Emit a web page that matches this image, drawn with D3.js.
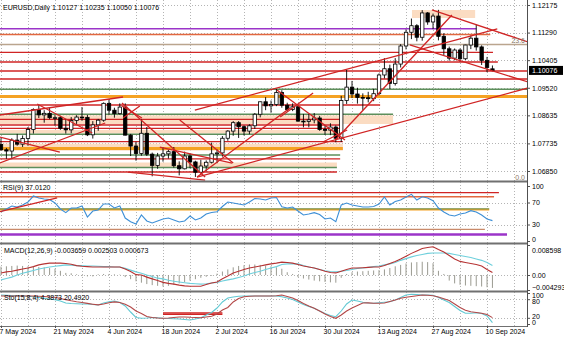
<!DOCTYPE html>
<html>
<head>
<meta charset="utf-8">
<script src="https://cdn.jsdelivr.net/npm/d3@7"></script>
<style>
body { margin: 0; background: #fff; }
text { font-family: "Liberation Sans", Arial, sans-serif; font-size: 7px; fill: #000; }
</style>
</head>
<body>
<div id="chart"></div>
<script>
// ---- data ----
// daily EURUSD candles: date, open, high, low, close
var candles = [
["2024-05-07",1.0770,1.0790,1.0750,1.0753],["2024-05-08",1.0753,1.0759,1.0724,1.0749],
["2024-05-09",1.0749,1.0790,1.0723,1.0784],["2024-05-10",1.0784,1.0804,1.0766,1.0771],
["2024-05-13",1.0771,1.0799,1.0762,1.0789],["2024-05-14",1.0789,1.0826,1.0766,1.0818],
["2024-05-15",1.0818,1.0886,1.0805,1.0882],["2024-05-16",1.0882,1.0895,1.0855,1.0865],
["2024-05-17",1.0865,1.0880,1.0840,1.0870],["2024-05-20",1.0870,1.0887,1.0851,1.0856],
["2024-05-21",1.0856,1.0864,1.0831,1.0856],["2024-05-22",1.0856,1.0862,1.0817,1.0822],
["2024-05-23",1.0822,1.0852,1.0805,1.0817],["2024-05-24",1.0817,1.0858,1.0806,1.0847],
["2024-05-27",1.0847,1.0864,1.0836,1.0858],["2024-05-28",1.0858,1.0890,1.0846,1.0857],
["2024-05-29",1.0857,1.0865,1.0797,1.0801],["2024-05-30",1.0801,1.0845,1.0789,1.0833],
["2024-05-31",1.0833,1.0852,1.0814,1.0848],["2024-06-03",1.0848,1.0905,1.0843,1.0902],
["2024-06-04",1.0902,1.0916,1.0866,1.0880],["2024-06-05",1.0880,1.0888,1.0856,1.0869],
["2024-06-06",1.0869,1.0902,1.0866,1.0890],["2024-06-07",1.0890,1.0902,1.0799,1.0800],
["2024-06-10",1.0800,1.0804,1.0733,1.0765],["2024-06-11",1.0765,1.0779,1.0718,1.0741],
["2024-06-12",1.0741,1.0852,1.0734,1.0806],["2024-06-13",1.0806,1.0826,1.0733,1.0739],
["2024-06-14",1.0739,1.0744,1.0668,1.0703],["2024-06-17",1.0703,1.0743,1.0692,1.0733],
["2024-06-18",1.0733,1.0761,1.0715,1.0740],["2024-06-19",1.0740,1.0753,1.0725,1.0747],
["2024-06-20",1.0747,1.0762,1.0696,1.0702],["2024-06-21",1.0702,1.0716,1.0671,1.0692],
["2024-06-24",1.0692,1.0747,1.0690,1.0733],["2024-06-25",1.0733,1.0739,1.0694,1.0714],
["2024-06-26",1.0714,1.0718,1.0666,1.0681],["2024-06-27",1.0681,1.0721,1.0677,1.0701],
["2024-06-28",1.0701,1.0719,1.0684,1.0713],["2024-07-01",1.0713,1.0776,1.0709,1.0740],
["2024-07-02",1.0740,1.0754,1.0710,1.0743],["2024-07-03",1.0743,1.0797,1.0731,1.0790],
["2024-07-04",1.0790,1.0816,1.0782,1.0813],["2024-07-05",1.0813,1.0845,1.0798,1.0840],
["2024-07-08",1.0840,1.0845,1.0791,1.0827],["2024-07-09",1.0827,1.0831,1.0799,1.0813],
["2024-07-10",1.0813,1.0835,1.0803,1.0830],["2024-07-11",1.0830,1.0871,1.0820,1.0867],
["2024-07-12",1.0867,1.0908,1.0857,1.0907],["2024-07-15",1.0907,1.0922,1.0880,1.0894],
["2024-07-16",1.0894,1.0911,1.0872,1.0898],["2024-07-17",1.0898,1.0948,1.0893,1.0937],
["2024-07-18",1.0937,1.0944,1.0888,1.0896],["2024-07-19",1.0896,1.0904,1.0876,1.0882],
["2024-07-22",1.0882,1.0902,1.0877,1.0891],["2024-07-23",1.0891,1.0895,1.0843,1.0845],
["2024-07-24",1.0845,1.0868,1.0825,1.0844],["2024-07-25",1.0844,1.0868,1.0825,1.0849],
["2024-07-26",1.0849,1.0871,1.0838,1.0855],["2024-07-29",1.0855,1.0862,1.0814,1.0818],
["2024-07-30",1.0818,1.0832,1.0801,1.0816],["2024-07-31",1.0816,1.0838,1.0800,1.0826],
["2024-08-01",1.0826,1.0831,1.0777,1.0790],["2024-08-02",1.0790,1.0926,1.0778,1.0911],
["2024-08-05",1.0911,1.1009,1.0900,1.0954],["2024-08-06",1.0954,1.0974,1.0919,1.0932],
["2024-08-07",1.0932,1.0952,1.0901,1.0921],["2024-08-08",1.0921,1.0934,1.0881,1.0920],
["2024-08-09",1.0920,1.0939,1.0905,1.0917],["2024-08-12",1.0917,1.0949,1.0909,1.0933],
["2024-08-13",1.0933,1.0998,1.0928,1.0993],["2024-08-14",1.0993,1.1047,1.0982,1.1013],
["2024-08-15",1.1013,1.1026,1.0948,1.0966],["2024-08-16",1.0966,1.1047,1.0959,1.1028],
["2024-08-19",1.1028,1.1092,1.1017,1.1086],["2024-08-20",1.1086,1.1139,1.1075,1.1130],
["2024-08-21",1.1130,1.1174,1.1108,1.1151],["2024-08-22",1.1151,1.1156,1.1101,1.1114],
["2024-08-23",1.1114,1.1201,1.1103,1.1192],["2024-08-26",1.1192,1.1195,1.1154,1.1163],
["2024-08-27",1.1163,1.1190,1.1140,1.1182],["2024-08-28",1.1182,1.1202,1.1104,1.1117],
["2024-08-29",1.1117,1.1127,1.1057,1.1077],["2024-08-30",1.1077,1.1084,1.1039,1.1047],
["2024-09-02",1.1047,1.1078,1.1040,1.1073],["2024-09-03",1.1073,1.1078,1.1036,1.1045],
["2024-09-04",1.1045,1.1090,1.1041,1.1089],["2024-09-05",1.1089,1.1120,1.1076,1.1111],
["2024-09-06",1.1111,1.1155,1.1071,1.1083],["2024-09-09",1.1083,1.1088,1.1025,1.1040],
["2024-09-10",1.1040,1.1051,1.1002,1.1017],["2024-09-11",1.10127,1.10235,1.10050,1.10076]
];

var rsi = [53.3,58.2,63.6,61.8,65.5,70.9,81.8,78.2,76.4,75.5,
69.1,58.2,51.5,60,60,63.6,43.6,54.5,56.4,67.3,
67.3,60,63.6,41.8,35.1,30.9,47.3,36.4,32.7,36.4,
40,41.8,38.2,34.5,36.4,45.5,38.2,41.8,49.1,51.8,
53.3,62.7,70.9,69.1,67.3,65.5,70.9,77.3,76.4,74.5,
78.2,79.1,62.4,60,61.8,54.5,47.3,49.1,51.5,48.2,
40,41.8,35.1,65.5,69.1,65.5,63.6,61.8,61.8,62.7,
67.3,80,65.5,71.8,74.5,80,84.9,74.5,80.5,78.2,
73.3,60,52.7,47.3,45.5,49.1,50.9,55.1,52.7,47.3,
40,37.0];

var macdMain = [0.0006,0.0009,0.0011,0.0014,0.0017,0.0020,0.0024,0.0029,0.0032,0.0034,
0.0034,0.0034,0.0033,0.0031,0.0027,0.0025,0.0024,0.0023,0.0023,0.0023,
0.0023,0.0023,0.0023,0.0017,0.0010,0.0001,0.0000,-0.0006,-0.0011,-0.0016,
-0.0021,-0.0024,-0.0026,-0.0029,-0.0031,-0.0032,-0.0032,-0.0032,-0.0027,-0.0023,
-0.0020,-0.0011,-0.0003,0.0006,0.0011,0.0016,0.0020,0.0023,0.0026,0.0029,
0.0032,0.0034,0.0037,0.0036,0.0034,0.0030,0.0026,0.0023,0.0020,0.0016,
0.0011,0.0007,0.0006,0.0011,0.0016,0.0020,0.0020,0.0021,0.0022,0.0023,
0.0023,0.0027,0.0033,0.0039,0.0046,0.0054,0.0062,0.0069,0.0076,0.0079,
0.0081,0.0073,0.0066,0.0056,0.0046,0.0039,0.0036,0.0033,0.0030,0.0026,
0.0016,0.0007];

var macdSignal = [-0.0014,-0.0010,-0.0006,0.0000,0.0005,0.0009,0.0013,0.0017,0.0020,0.0023,
0.0025,0.0027,0.0029,0.0028,0.0027,0.0027,0.0026,0.0026,0.0025,0.0024,
0.0024,0.0023,0.0023,0.0019,0.0014,0.0009,0.0005,0.0000,-0.0004,-0.0009,
-0.0011,-0.0015,-0.0018,-0.0020,-0.0022,-0.0024,-0.0025,-0.0026,-0.0025,-0.0023,
-0.0021,-0.0017,-0.0014,-0.0011,-0.0007,-0.0003,0.0003,0.0007,0.0011,0.0016,
0.0020,0.0024,0.0030,0.0032,0.0032,0.0032,0.0027,0.0023,0.0020,0.0016,
0.0012,0.0010,0.0009,0.0011,0.0013,0.0016,0.0019,0.0020,0.0022,0.0024,
0.0026,0.0029,0.0032,0.0036,0.0042,0.0047,0.0052,0.0056,0.0059,0.0062,
0.0063,0.0063,0.0063,0.0062,0.0059,0.0056,0.0053,0.0050,0.0046,0.0042,
0.0036,0.0027];

var macdHist = [0.0024,0.0025,0.0026,0.0027,0.0026,0.0025,0.0024,0.0023,0.0022,0.0020,
0.0018,0.0012,0.0006,0.0005,0.0002,-0.0003,-0.0004,-0.0004,0.0002,0.0003,
0.0003,0.0002,0.0001,-0.0006,-0.0012,-0.0018,-0.0022,-0.0026,-0.0029,-0.0031,
-0.0033,-0.0031,-0.0028,-0.0024,-0.0020,-0.0016,-0.0012,-0.0008,-0.0005,-0.0002,
0.0004,0.0010,0.0016,0.0022,0.0026,0.0028,0.0030,0.0030,0.0029,0.0027,
0.0025,0.0022,0.0018,0.0008,0.0003,-0.0006,-0.0010,-0.0013,-0.0016,-0.0018,
-0.0020,-0.0021,-0.0022,-0.0008,0.0003,0.0008,0.0010,0.0011,0.0012,0.0013,
0.0014,0.0016,0.0020,0.0025,0.0029,0.0033,0.0036,0.0037,0.0038,0.0037,
0.0034,0.0012,0.0003,-0.0016,-0.0024,-0.0028,-0.0030,-0.0031,-0.0032,-0.0033,
-0.0035,-0.0037];

var stoMain = [93.5,92.6,91.9,91.3,90.3,89.4,88.1,85.5,82.9,80.6,
78.4,74.2,67.7,66.1,65.2,64.5,64.5,62.9,61.3,67.7,
71.9,74.2,69.4,58.1,38.7,21,18.4,19.4,21,20,
18.4,17.7,16.8,16.1,14.5,12.9,16.1,20.3,29,37.1,
51.6,71,83.9,87.1,89.4,90.3,90.3,90.3,90.3,90.3,
90.3,90.3,88.1,83.9,79,71,62.9,56.5,50.6,41.9,
33.9,27.4,23.5,41.9,64.5,77.4,74.2,70.3,67.7,66.8,
68.4,70,71.6,77.4,85.5,93.5,95.8,95.2,93.5,93.5,
92.6,85.5,77.4,69.4,56.5,43.5,34.5,34.5,36.1,33.9,
25.8,4.39];

var stoSignal = [90.3,90.3,90.3,90.3,90.3,90.3,90.3,89.7,88.7,87.1,
86.1,82.3,78.4,74.8,71.9,69.4,66.5,63.9,61.6,64.5,
68.4,71.3,69.4,63.5,54.8,41.9,33.9,24.2,21,19.4,
18.4,19.4,21,22.6,22.6,21.6,21,20.3,22.6,24.8,
32.3,45.2,53.2,71,82.3,88.1,89.4,90.3,90.3,90.3,
90.3,91,93.5,88.7,83.9,75.8,66.1,58.1,50.6,41.9,
32.3,24.2,18.4,29,41.9,51.6,59.7,67.7,68.1,67.1,
66.8,67.7,72.6,77.4,82.9,86.1,88.7,91.3,93.5,92.6,
91,87.1,81.3,75.8,64.5,53.2,44.2,39.4,37.1,34.5,
30.6,20.49];

// tick labels
var priceTicks = [1.12175, 1.11290, 1.10405, 1.09520, 1.08635, 1.07735, 1.06850];
var rsiTicks = [0, 30, 70, 100];
var macdTicks = [-0.004293, 0, 0.008598];
var stoTicks = [0, 20, 80, 100];
var dateTickIdx = [0, 10, 20, 30, 40, 50, 60, 70, 80, 90];
var dateTickLabels = ["7 May 2024","21 May 2024","4 Jun 2024","18 Jun 2024","2 Jul 2024",
  "16 Jul 2024","30 Jul 2024","13 Aug 2024","27 Aug 2024","10 Sep 2024"];

// drawn objects on the price window: [price, first bar, last bar]
var purpleLevels = [[1.11415, -1, 88]];
var salmonLevels = [[1.11229, -1, 90.6]];
var tanLevels = [[1.10908, -1, 98]];
var redLevels = [[1.10658,-1,91.1],[1.10346,-1,92],[1.10058,-1,98],[1.09801,-1,98],
  [1.08967,-1,70.2],[1.08508,-1,63.3],[1.08325,-1,63.3],[1.08219,-1,63.3],
  [1.07795,-1,63.3],[1.07241,-1,62.8],[1.06817,-1,62.2]];
var greenLevels = [[1.09471,-1,98],[1.08668,-1,72.6],[1.08027,-1,63.3],[1.07362,-1,62.8],[1.06962,-1,62.2]];
var orangeLevels = [[1.09240,-1,98],[1.07571,-1,63.3]];
// zones: [price top, price bottom, first bar, last bar]
var peachZones = [[1.08636,1.08357,-1,72.6],[1.08165,1.08053,-1,63.3],[1.07726,1.07503,-1,63.3],
  [1.07122,1.06977,-1,62.2],[1.12015,1.11758,76.1,87.8]];
// trend lines: [bar, price, bar, price]
var trendLines = [
  [-0.2,1.08646,22.6,1.09223],[6.7,1.09000,16.9,1.08068],[-0.2,1.07940,10.9,1.07459],
  [-0.2,1.07106,19.3,1.08389],[22.4,1.09031,37.8,1.06657],[29.4,1.07619,42.8,1.07106],
  [33.1,1.08486,43.0,1.07106],[36.3,1.06657,53.5,1.08871],[36.3,1.06657,97.6,1.09512],
  [35.9,1.08806,91.9,1.11405],[51.1,1.09448,63.7,1.07844],[51.7,1.08582,57.8,1.09352],
  [59.6,1.07780,64.1,1.08165],[61.9,1.07844,83.5,1.11854],[79.8,1.12015,97.6,1.10988],
  [75.7,1.10892,97.6,1.09705],[22.4,1.08935,26.1,1.08550],[22.6,1.08550,25.7,1.08935],
  [23.5,1.06817,37.8,1.06560]
];
// RSI window objects
var rsiRedLevels = [[88,-1,92.2]];
var rsiSalmonLevels = [[80.5,-1,91.3]];
var rsiOrangeLevels = [[57.5,-1,90.4]];
var rsiGreenLevels = [[58.4,-1,90.4]];
var rsiTanLevels = [[21,-1,89.6]];
var rsiPurpleLevels = [[12,-1,93.7]];
var rsiTrend = [[-0.2,53.3,10.4,78.2]];
// stochastic window objects
var stoRedLevels = [[35.5,30,41],[31,30,41]];

// ---- layout ----
var W = 564, H = 338, plotRight = 527;
var svg = d3.select("#chart").append("svg").attr("width", W).attr("height", H);

var x = d3.scaleLinear().domain([0, 97.4]).range([1, plotRight]);
var yMain = d3.scaleLinear().domain([1.06529, 1.12335]).range([181, 0]);
var yRsi = d3.scaleLinear().domain([0, 100]).range([241, 186]);
var yMacd = d3.scaleLinear().domain([-0.004293, 0.008598]).range([290, 245]);
var ySto = d3.scaleLinear().domain([0, 100]).range([324, 293]);

var panels = [
  {id: "main", top: 0, bottom: 181},
  {id: "rsi", top: 182, bottom: 243},
  {id: "macd", top: 244, bottom: 291},
  {id: "sto", top: 292, bottom: 326}
];

var defs = svg.append("defs");
var layers = {};
panels.forEach(function(p) {
  defs.append("clipPath").attr("id", "clip-" + p.id)
    .append("rect").attr("x", 0).attr("y", p.top).attr("width", plotRight).attr("height", p.bottom - p.top);
  layers[p.id] = svg.append("g").attr("clip-path", "url(#clip-" + p.id + ")");
});

// vertical dotted grid, one line per week
var gridIdx = d3.range(0, 98, 5);
panels.forEach(function(p) {
  layers[p.id].selectAll("line.vgrid").data(gridIdx).join("line")
    .attr("class", "vgrid")
    .attr("x1", d => Math.round(x(d)) + 0.5).attr("x2", d => Math.round(x(d)) + 0.5)
    .attr("y1", p.top).attr("y2", p.bottom)
    .attr("stroke", "#b4b4b4").attr("stroke-width", 1).attr("stroke-dasharray", "1,2");
});

function hGrid(g, values, yScale) {
  g.selectAll(null).data(values).join("line")
    .attr("x1", 0).attr("x2", plotRight)
    .attr("y1", d => Math.round(yScale(d)) + 0.5).attr("y2", d => Math.round(yScale(d)) + 0.5)
    .attr("stroke", "#b4b4b4").attr("stroke-width", 1).attr("stroke-dasharray", "1,2");
}
hGrid(layers.main, priceTicks, yMain);
hGrid(layers.rsi, [30, 70], yRsi);
hGrid(layers.macd, [0], yMacd);
hGrid(layers.sto, [20, 80], ySto);

function zones(g, arr, yScale, color) {
  g.selectAll(null).data(arr).join("rect")
    .attr("x", d => x(d[2])).attr("width", d => x(d[3]) - x(d[2]))
    .attr("y", d => yScale(d[0])).attr("height", d => yScale(d[1]) - yScale(d[0]))
    .attr("fill", color);
}
function levels(g, arr, yScale, color, width) {
  g.selectAll(null).data(arr).join("line")
    .attr("x1", d => x(d[1])).attr("x2", d => x(d[2]))
    .attr("y1", d => yScale(d[0])).attr("y2", d => yScale(d[0]))
    .attr("stroke", color).attr("stroke-width", width);
}
function segments(g, arr, yScale, color, width) {
  g.selectAll(null).data(arr).join("line")
    .attr("x1", d => x(d[0])).attr("y1", d => yScale(d[1]))
    .attr("x2", d => x(d[2])).attr("y2", d => yScale(d[3]))
    .attr("stroke", color).attr("stroke-width", width);
}

var RED = "#d02424", GREEN = "#5d8f5b", ORANGE = "#f5a223", PURPLE = "#9b34c9",
    TAN = "#baa58e", SALMON = "#e2673f", PEACH = "#fbdcc2";

// price window objects
var m = layers.main;
zones(m, peachZones, yMain, PEACH);
levels(m, tanLevels, yMain, TAN, 1.5);
levels(m, purpleLevels, yMain, PURPLE, 1.5);
levels(m, salmonLevels, yMain, SALMON, 1.3);
levels(m, redLevels, yMain, RED, 1.3);
levels(m, greenLevels, yMain, GREEN, 1.5);
levels(m, orangeLevels, yMain, ORANGE, 3);

// candles
var cg = m.append("g");
candles.forEach(function(c, i) {
  var cx = x(i), o = c[1], h = c[2], l = c[3], cl = c[4];
  cg.append("line").attr("x1", cx).attr("x2", cx)
    .attr("y1", yMain(h)).attr("y2", yMain(l)).attr("stroke", "#000").attr("stroke-width", 0.9);
  var top = yMain(Math.max(o, cl)), bot = yMain(Math.min(o, cl));
  cg.append("rect").attr("x", cx - 1.7).attr("width", 3.4)
    .attr("y", top).attr("height", Math.max(0.8, bot - top))
    .attr("fill", cl >= o ? "#fff" : "#000").attr("stroke", "#000").attr("stroke-width", 0.8);
});

segments(m, trendLines, yMain, RED, 1.3);

// RSI window
var r = layers.rsi;
levels(r, rsiRedLevels, yRsi, RED, 1.3);
levels(r, rsiSalmonLevels, yRsi, SALMON, 1.3);
levels(r, rsiOrangeLevels, yRsi, ORANGE, 2);
levels(r, rsiGreenLevels, yRsi, GREEN, 1);
levels(r, rsiTanLevels, yRsi, "#c98a6a", 1.3);
levels(r, rsiPurpleLevels, yRsi, PURPLE, 2.5);
r.append("path").datum(rsi)
  .attr("d", d3.line().x((d, i) => x(i)).y(d => yRsi(d)))
  .attr("fill", "none").attr("stroke", "#3d8fd6").attr("stroke-width", 1.1);
segments(r, rsiTrend, yRsi, RED, 1.3);

// MACD window
var g2 = layers.macd;
g2.selectAll(null).data(macdHist).join("line")
  .attr("x1", (d, i) => x(i)).attr("x2", (d, i) => x(i))
  .attr("y1", yMacd(0)).attr("y2", d => yMacd(d))
  .attr("stroke", "#9a9a90").attr("stroke-width", 1);
g2.append("path").datum(macdSignal)
  .attr("d", d3.line().x((d, i) => x(i)).y(d => yMacd(d)))
  .attr("fill", "none").attr("stroke", "#6fd0dc").attr("stroke-width", 1.1);
g2.append("path").datum(macdMain)
  .attr("d", d3.line().x((d, i) => x(i)).y(d => yMacd(d)))
  .attr("fill", "none").attr("stroke", "#b63434").attr("stroke-width", 1.1);

// Stochastic window
var s = layers.sto;
levels(s, stoRedLevels, ySto, RED, 1.3);
s.append("path").datum(stoMain)
  .attr("d", d3.line().x((d, i) => x(i)).y(d => ySto(d)))
  .attr("fill", "none").attr("stroke", "#62c9d3").attr("stroke-width", 1.1);
s.append("path").datum(stoSignal)
  .attr("d", d3.line().x((d, i) => x(i)).y(d => ySto(d)))
  .attr("fill", "none").attr("stroke", "#b34848").attr("stroke-width", 1.1);

// window separators and right border
[181, 243, 291].forEach(function(yy) {
  svg.append("line").attr("x1", 0).attr("x2", plotRight + 1).attr("y1", yy + 0.5).attr("y2", yy + 0.5)
    .attr("stroke", "#707070").attr("stroke-width", 2);
});
svg.append("line").attr("x1", 0).attr("x2", plotRight + 1).attr("y1", 326.5).attr("y2", 326.5)
  .attr("stroke", "#707070").attr("stroke-width", 1);
svg.append("line").attr("x1", plotRight + 0.5).attr("x2", plotRight + 0.5).attr("y1", 0).attr("y2", 327)
  .attr("stroke", "#505050").attr("stroke-width", 1);

// axes
function rightAxis(scale, ticks, fmt, nudge, size) {
  var ax = svg.append("g").attr("transform", "translate(" + plotRight + ",0)")
    .call(d3.axisRight(scale).tickValues(ticks).tickFormat(fmt).tickSize(3).tickPadding(2));
  ax.select(".domain").remove();
  ax.selectAll("line").attr("stroke", "#505050");
  ax.selectAll("text").attr("font-size", size || 7).attr("font-family", "Liberation Sans, Arial, sans-serif")
    .attr("fill", "#000").attr("y", (d) => nudge ? nudge(d) : 0);
  return ax;
}
rightAxis(yMain, priceTicks, d3.format(".5f"));
rightAxis(yRsi, rsiTicks, d3.format("d"), d => d === 0 ? -2 : 0);
rightAxis(yMacd, macdTicks, d => d === 0 ? "0.00" : d3.format(".6f")(d), d => d > 0 ? 5 : (d < 0 ? -3 : 0));
// the four stochastic labels sit close together; nudge them apart a little
rightAxis(ySto, stoTicks, d3.format("d"), d => d === 100 ? 2 : (d === 80 ? 2.5 : (d === 20 ? -1.5 : -1.5)), 6);

var xAx = svg.append("g").attr("transform", "translate(0,326)")
  .call(d3.axisBottom(x).tickValues(dateTickIdx).tickFormat((d, i) => dateTickLabels[i]).tickSize(2).tickPadding(1));
xAx.select(".domain").remove();
xAx.selectAll("line").attr("stroke", "#505050");
xAx.selectAll("text").attr("text-anchor", "start").attr("dx", -2)
  .attr("font-size", 7).attr("font-family", "Liberation Sans, Arial, sans-serif").attr("fill", "#000");

// current price marker
var last = candles[candles.length - 1][4];
svg.append("rect").attr("x", plotRight + 2).attr("y", yMain(last) - 4.5).attr("width", 34).attr("height", 9).attr("fill", "#000");
svg.append("text").attr("x", plotRight + 5).attr("y", yMain(last) + 2.5).style("fill", "#fff").text(d3.format(".5f")(last));

// window captions and fibo labels
svg.append("text").attr("x", 3).attr("y", 9.5).text("EURUSD,Daily 1.10127 1.10235 1.10050 1.10076");
svg.append("text").attr("x", 3).attr("y", 190).text("RSI(9) 37.0120");
svg.append("text").attr("x", 4).attr("y", 253).text("MACD(12,26,9) -0.003659 0.002503 0.000673");
svg.append("text").attr("x", 4).attr("y", 300).text("Sto(15,8,4) 4.3873 20.4920");
svg.append("text").attr("x", plotRight - 2).attr("y", yMain(tanLevels[0][0]) - 1.5).attr("text-anchor", "end")
  .style("fill", "#8c7a68").text("23.6");
svg.append("text").attr("x", plotRight - 2).attr("y", 179.5).attr("text-anchor", "end")
  .style("fill", "#8c7a68").text("0.0");
</script>
</body>
</html>
